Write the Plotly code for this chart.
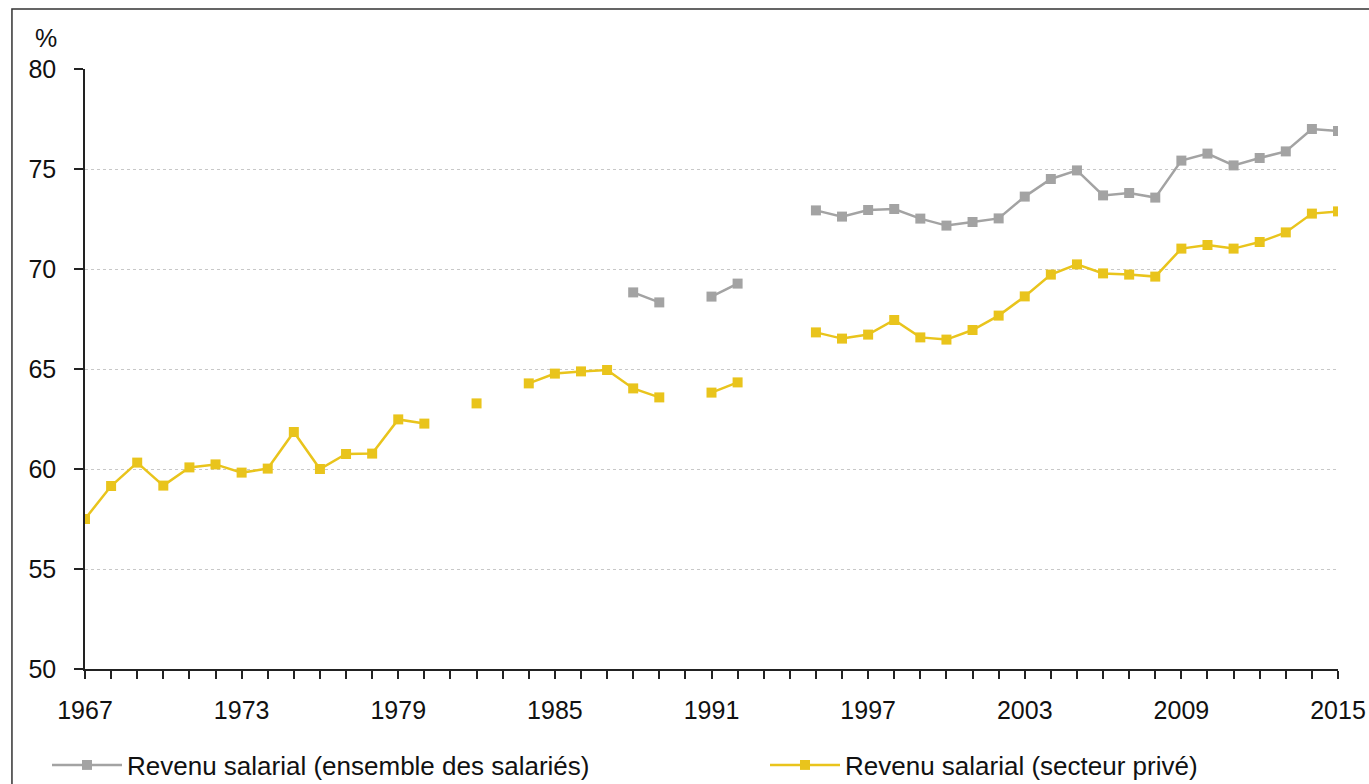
import plotly.graph_objects as go

years = list(range(1967, 2016))

# Revenu salarial (ensemble des salariés) — missing years = no data
ensemble = {
    1988: 68.83, 1989: 68.33, 1991: 68.62, 1992: 69.27,
    1995: 72.93, 1996: 72.62, 1997: 72.95, 1998: 73.0, 1999: 72.52,
    2000: 72.17, 2001: 72.35, 2002: 72.53, 2003: 73.62, 2004: 74.5,
    2005: 74.93, 2006: 73.68, 2007: 73.8, 2008: 73.57, 2009: 75.42,
    2010: 75.77, 2011: 75.18, 2012: 75.55, 2013: 75.88, 2014: 77.0,
    2015: 76.9,
}

# Revenu salarial (secteur privé)
prive = {
    1967: 57.5, 1968: 59.15, 1969: 60.32, 1970: 59.17, 1971: 60.08,
    1972: 60.23, 1973: 59.82, 1974: 60.02, 1975: 61.85, 1976: 60.0,
    1977: 60.75, 1978: 60.77, 1979: 62.48, 1980: 62.27,
    1982: 63.28,
    1984: 64.28, 1985: 64.77, 1986: 64.88, 1987: 64.95, 1988: 64.03,
    1989: 63.58, 1991: 63.82, 1992: 64.33,
    1995: 66.83, 1996: 66.52, 1997: 66.72, 1998: 67.45, 1999: 66.58,
    2000: 66.47, 2001: 66.95, 2002: 67.67, 2003: 68.63, 2004: 69.72,
    2005: 70.23, 2006: 69.78, 2007: 69.72, 2008: 69.62, 2009: 71.02,
    2010: 71.2, 2011: 71.02, 2012: 71.35, 2013: 71.83, 2014: 72.77,
    2015: 72.88,
}

ens_values = [ensemble.get(y) for y in years]
prive_values = [prive.get(y) for y in years]

series_names = ["Revenu salarial (ensemble des salariés)", "Revenu salarial (secteur privé)"]
x_tick_labels = [1967, 1973, 1979, 1985, 1991, 1997, 2003, 2009, 2015]
y_ticks = [50, 55, 60, 65, 70, 75, 80]

GREY = "#a3a3a3"
YELLOW = "#e9c41c"
FONT = "Liberation Sans, Arial, sans-serif"
FS = 25
FS_LEG = 26

fig = go.Figure()
fig.add_trace(go.Scatter(
    x=years, y=ens_values, name=series_names[0], mode="lines+markers",
    connectgaps=False, legend="legend",
    line=dict(color=GREY, width=2.5),
    marker=dict(symbol="square", size=10, color=GREY),
))
fig.add_trace(go.Scatter(
    x=years, y=prive_values, name=series_names[1], mode="lines+markers",
    connectgaps=False, legend="legend2",
    line=dict(color=YELLOW, width=2.5),
    marker=dict(symbol="square", size=10, color=YELLOW),
))

legend_common = dict(
    orientation="h", xref="container", yref="container",
    xanchor="left", yanchor="middle",
    font=dict(size=FS_LEG, family=FONT, color="#111"),
    itemwidth=70, bgcolor="rgba(0,0,0,0)",
)

fig.update_layout(
    width=1369, height=784,
    margin=dict(l=85, r=31, t=69, b=115, autoexpand=False),
    paper_bgcolor="white", plot_bgcolor="white",
    font=dict(family=FONT, size=FS, color="#111"),
    showlegend=True,
    legend=dict(x=47 / 1369, y=(784 - 765) / 784, **legend_common),
    legend2=dict(x=765 / 1369, y=(784 - 765) / 784, **legend_common),
)

fig.update_xaxes(
    range=[1967, 2015],
    tickmode="array", tickvals=x_tick_labels, ticktext=[str(v) for v in x_tick_labels],
    ticks="outside", ticklen=8, tickwidth=1.5, tickcolor="#222",
    minor=dict(dtick=1, tick0=1967, ticks="outside", ticklen=8, tickwidth=1.5, tickcolor="#222", showgrid=False),
    showline=True, linecolor="#222", linewidth=1.5,
    showgrid=False, zeroline=False,
    ticklabelstandoff=10,
    tickfont=dict(size=FS, family=FONT, color="#111"),
)
fig.update_yaxes(
    range=[50, 80],
    tickmode="array", tickvals=y_ticks,
    ticks="outside", ticklen=9, tickwidth=1.5, tickcolor="#222",
    showline=True, linecolor="#222", linewidth=1.5,
    showgrid=True, gridcolor="#c8c8c8", griddash="dot", gridwidth=1,
    zeroline=False,
    ticklabelstandoff=13,
    tickfont=dict(size=FS, family=FONT, color="#111"),
)

fig.add_annotation(
    text="%", xref="paper", yref="paper", x=-0.031, y=1.052,
    xanchor="center", yanchor="middle", showarrow=False,
    font=dict(size=FS, family=FONT, color="#111"),
)

# outer frame
fig.add_shape(
    type="rect", xref="paper", yref="paper",
    x0=-0.0583, x1=1.2, y0=-0.3, y1=1.1,
    line=dict(color="#333", width=1.5), fillcolor="rgba(0,0,0,0)", layer="below",
)

fig.write_html(
    "out.html",
    config={"displayModeBar": False},
    post_script="document.body.style.margin='0';document.body.style.overflow='hidden';",
)
